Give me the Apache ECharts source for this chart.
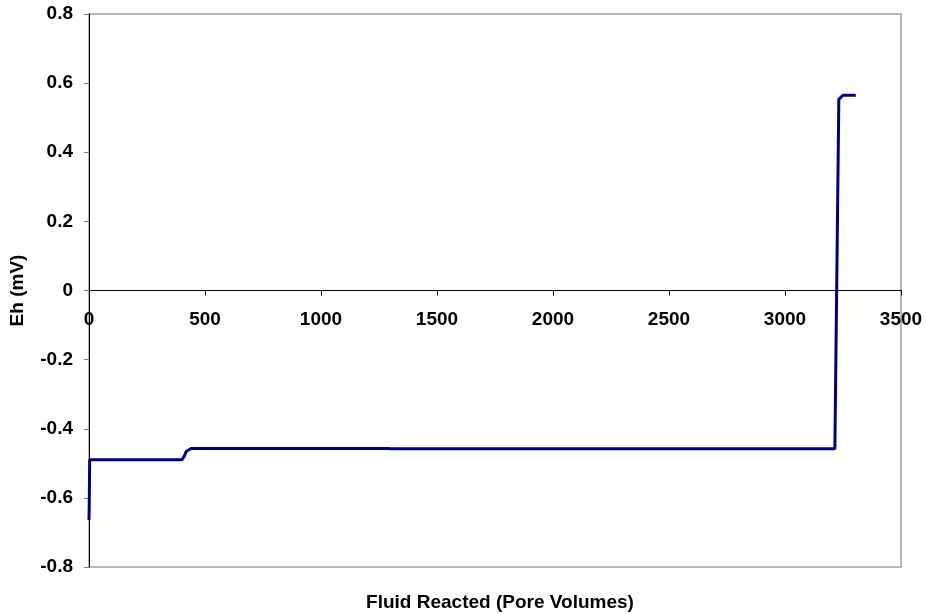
<!DOCTYPE html>
<html>
<head>
<meta charset="utf-8">
<script src="https://cdn.jsdelivr.net/npm/echarts@6/dist/echarts.min.js"></script>
<style>html,body{margin:0;padding:0;background:#fff}#c{width:926px;height:614px}</style>
</head>
<body>
<div id="c"></div>
<script>
var xValues = [0, 1, 3, 400, 410, 420, 440, 1290, 1300, 3215, 3232, 3250, 3305];
var ehValues = [-0.664, -0.62, -0.490, -0.490, -0.480, -0.465, -0.457, -0.457, -0.458, -0.458, 0.553, 0.565, 0.565];
var xTitle = 'Fluid Reacted (Pore Volumes)';
var yTitle = 'Eh (mV)';

var font = '"Liberation Sans", Arial, sans-serif';
var chart = echarts.init(document.getElementById('c'));
chart.setOption({
  animation: false,
  backgroundColor: '#fff',
  title: {
    text: xTitle, left: 495, top: 588, textAlign: 'center',
    textStyle: { fontFamily: font, fontWeight: 'bold', fontSize: 19, color: '#000' }
  },
  grid: { left: 89, right: 25, top: 14, bottom: 47, show: true, borderColor: '#a0a0a0', borderWidth: 1.5 },
  xAxis: {
    type: 'value', min: 0, max: 3500, interval: 500,
    offset: -276.5,
    axisLine: { onZero: false, lineStyle: { color: '#000', width: 1 } },
    axisTick: { show: true, length: 5, lineStyle: { color: '#000' } },
    axisLabel: { margin: 20, fontFamily: font, fontWeight: 'bold', fontSize: 19, color: '#000',
      formatter: function (v) { return String(v); } },
    splitLine: { show: false }
  },
  yAxis: {
    type: 'value', min: -0.8, max: 0.8, interval: 0.2,
    name: yTitle, nameLocation: 'middle', nameGap: 62, nameRotate: 90,
    nameTextStyle: { fontFamily: font, fontWeight: 'bold', fontSize: 19, color: '#000' },
    axisLine: { show: true, onZero: false, lineStyle: { color: '#000', width: 1 } },
    axisTick: { show: true, length: 5, lineStyle: { color: '#808080' } },
    axisLabel: { margin: 16, fontFamily: font, fontWeight: 'bold', fontSize: 19, color: '#000',
      formatter: function (v) { return String(+v.toFixed(1)); } },
    splitLine: { show: false }
  },
  series: [{
    type: 'line',
    data: xValues.map(function (x, i) { return [x, ehValues[i]]; }),
    showSymbol: false, symbol: 'none',
    lineStyle: { color: '#000080', width: 3 },
    smooth: false
  }]
});
</script>
</body>
</html>
